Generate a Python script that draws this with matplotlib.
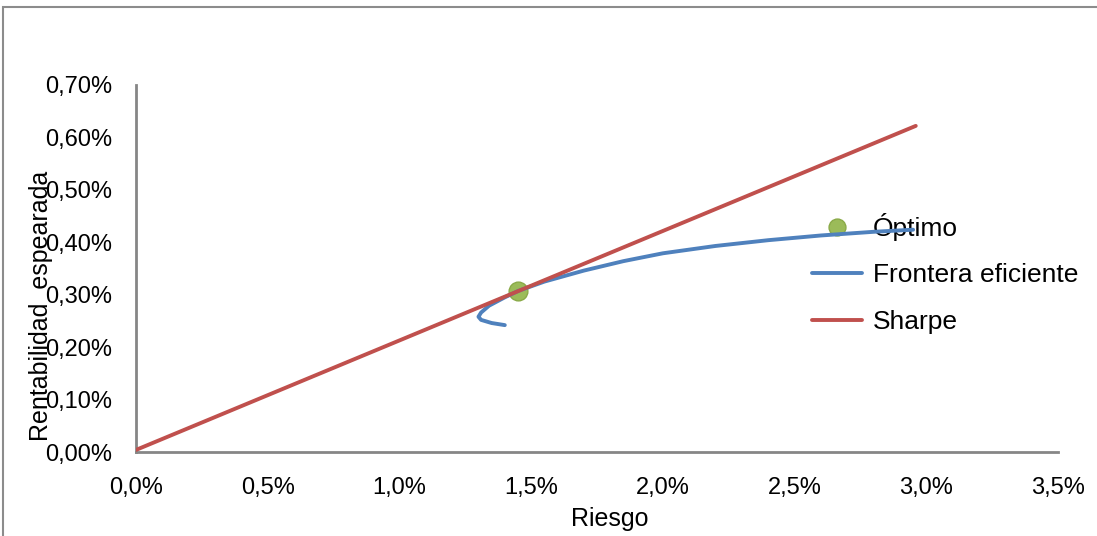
import numpy as np
import matplotlib
matplotlib.use('Agg')
import matplotlib.pyplot as plt
from matplotlib.ticker import FuncFormatter, MultipleLocator
from matplotlib.patches import Rectangle

plt.rcParams['font.family'] = ['Liberation Sans', 'DejaVu Sans']

# frontera eficiente (riesgo %, rentabilidad %)
frontera_riesgo = [1.40, 1.35, 1.31, 1.30, 1.31, 1.34, 1.40, 1.45, 1.55, 1.70,
                   1.85, 2.00, 2.20, 2.40, 2.60, 2.80, 2.95]
frontera_rent = [0.242, 0.246, 0.252, 0.258, 0.266, 0.279, 0.295, 0.307, 0.325, 0.346,
                 0.364, 0.379, 0.393, 0.404, 0.413, 0.420, 0.424]

# linea de Sharpe
sharpe_riesgo = [0.0, 2.96]
sharpe_rent = [0.004, 0.622]

# cartera optima
optimo_riesgo = [1.45]
optimo_rent = [0.307]

fig = plt.figure(figsize=(10.97, 5.36), dpi=100)
ax = fig.add_axes([136/1097, 1-452/536, 922/1097, 367/536])

ax.plot(optimo_riesgo, optimo_rent, 'o', color='#9BBB59', markersize=13.5,
        markeredgecolor='#8AAA48', label='Óptimo', zorder=2)
ax.plot(frontera_riesgo, frontera_rent, '-', color='#4F81BD', linewidth=2.8,
        label='Frontera eficiente', zorder=3, solid_capstyle='round')
ax.plot(sharpe_riesgo, sharpe_rent, '-', color='#C0504D', linewidth=2.8,
        label='Sharpe', zorder=4, solid_capstyle='round')

ax.set_xlim(0, 3.5)
ax.set_ylim(0, 0.7)
ax.xaxis.set_major_locator(MultipleLocator(0.5))
ax.yaxis.set_major_locator(MultipleLocator(0.1))
ax.xaxis.set_major_formatter(FuncFormatter(lambda v, p: ('%.1f%%' % v).replace('.', ',')))
ax.yaxis.set_major_formatter(FuncFormatter(lambda v, p: ('%.2f%%' % v).replace('.', ',')))
ax.tick_params(axis='x', length=0, pad=18, labelsize=17)
ax.tick_params(axis='y', length=0, pad=17, labelsize=17)

for s in ['top', 'right']:
    ax.spines[s].set_visible(False)
for s in ['left', 'bottom']:
    ax.spines[s].set_color('#868686')
    ax.spines[s].set_linewidth(2.0)

ax.set_xlabel('Riesgo', fontsize=18)
ax.set_ylabel('Rentabilidad  espearada', fontsize=18)
ax.xaxis.set_label_coords(0.514, -0.150)
ax.yaxis.set_label_coords(-0.090, 0.398)

leg = ax.legend(loc='upper left', bbox_to_anchor=(812/1097, 1-213/536),
                bbox_transform=fig.transFigure, frameon=False, fontsize=19,
                borderpad=0, borderaxespad=0, handlelength=1.9,
                handletextpad=0.4, labelspacing=0.85, markerscale=0.9)
leg.set_zorder(1)

# marco exterior
fig.patches.append(Rectangle((3/1097, -0.1), 1.2, 0.1 + 1 - 7/536,
                             transform=fig.transFigure, fill=False,
                             edgecolor='#8C8C8C', linewidth=1.5))

fig.savefig('out.png', dpi=100)
